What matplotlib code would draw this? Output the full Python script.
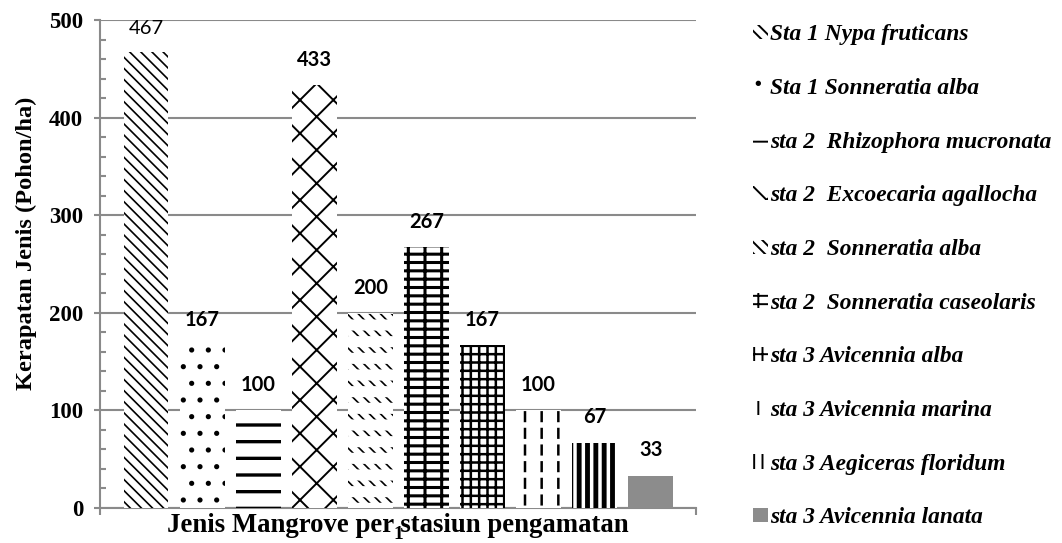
import matplotlib
matplotlib.use("Agg")
import matplotlib.pyplot as plt
from matplotlib.ticker import MultipleLocator, FixedLocator, NullFormatter

plt.rcParams['hatch.linewidth'] = 1.4

species = ["Sta 1 Nypa fruticans", "Sta 1 Sonneratia alba", "sta 2  Rhizophora mucronata",
           "sta 2  Excoecaria agallocha", "sta 2  Sonneratia alba", "sta 2  Sonneratia caseolaris",
           "sta 3 Avicennia alba", "sta 3 Avicennia marina", "sta 3 Aegiceras floridum",
           "sta 3 Avicennia lanata"]
values = [467, 167, 100, 433, 200, 267, 167, 100, 67, 33]
value_labels = ["467", "167", "100", "433", "200", "267", "167", "100", "67", "33"]
category_label = ["1"]

hatches = ['\\' * 3, '.', '-', 'x', '\\' * 3, '--|', '++', '|', '||', '']
faces = ['white'] * 9 + ['#8c8c8c']
hatch_lw = [1.2, 1.3, 2.4, 1.4, 1.2, 2.2, 1.8, 1.8, 3.5, 1.0]
# white horizontal hatch laid over some bars to break lines into dashes
breaks = {4: 8.0, 7: 4.0}

fig = plt.figure(figsize=(10.62, 5.43), dpi=100)
ax = fig.add_axes([0.0942, 0.0645, 0.5612, 0.8986])

gray = '#8a8a8a'
bars = []
for i, (v, h, fc, lbl) in enumerate(zip(values, hatches, faces, species)):
    b = ax.bar(i, v, width=0.80, facecolor=fc, edgecolor='black', linewidth=0,
               hatch=h, label=lbl, zorder=3)
    for p in b.patches:
        if hasattr(p, 'set_hatch_linewidth'):
            p.set_hatch_linewidth(hatch_lw[i])
    bars.append(b)
    if i in breaks:
        ov = ax.bar(i, v, width=0.80, facecolor='none', edgecolor='white', linewidth=0,
                    hatch='-', zorder=3.5)
        for p in ov.patches:
            if hasattr(p, 'set_hatch_linewidth'):
                p.set_hatch_linewidth(breaks[i])

for i, (v, t) in enumerate(zip(values, value_labels)):
    ax.annotate(t, (i, v), xytext=(0, 11), textcoords='offset points', ha='center',
                va='bottom', fontsize=14.5, family='Lato',
                fontweight='normal' if i == 0 else 'bold', zorder=4)

ax.set_xlim(-0.82, 9.81)
ax.set_ylim(0, 500)
ax.yaxis.set_major_locator(MultipleLocator(100))
ax.yaxis.set_minor_locator(MultipleLocator(20))
ax.grid(axis='y', color=gray, linewidth=1.5, zorder=0)
ax.set_axisbelow(True)

for s in ['top', 'right']:
    ax.spines[s].set_visible(False)
for s in ['left', 'bottom']:
    ax.spines[s].set_color(gray)
    ax.spines[s].set_linewidth(1.5)

ax.tick_params(axis='y', which='major', direction='out', length=4, width=1.5, color=gray,
               pad=8, labelsize=16.5)
ax.tick_params(axis='y', which='minor', direction='in', length=4.5, width=1.5, color=gray)
for t in ax.get_yticklabels():
    t.set_family('Liberation Serif')
    t.set_fontweight('bold')

# x axis: category boundary ticks and one centred category label
ax.xaxis.set_major_locator(FixedLocator([4.5]))
ax.set_xticklabels(category_label, family='Liberation Serif', fontweight='bold', fontsize=14)
ax.tick_params(axis='x', which='major', length=0, pad=13)
ax.xaxis.set_minor_locator(FixedLocator([-0.82, 9.81]))
ax.xaxis.set_minor_formatter(NullFormatter())
ax.tick_params(axis='x', which='minor', direction='out', length=5, width=1.5, color=gray)

ax.set_xlabel("Jenis Mangrove per stasiun pengamatan", family='Liberation Serif',
              fontweight='bold', fontsize=19.3)
ax.xaxis.set_label_coords(0.5, -0.011)
ax.set_ylabel("Kerapatan Jenis (Pohon/ha)", family='Liberation Serif',
              fontweight='bold', fontsize=17.6)
ax.yaxis.set_label_coords(-0.106, 0.543)

leg = fig.legend(handles=[b.patches[0] for b in bars], labels=species, loc='upper left',
                 bbox_to_anchor=(0.709, 0.955), frameon=False, borderpad=0,
                 borderaxespad=0, handlelength=0.65, handleheight=0.55, handletextpad=0.1,
                 labelspacing=1.40,
                 prop={'family': 'Liberation Serif', 'weight': 'bold', 'style': 'italic', 'size': 16.8})

fig.savefig("out.png", dpi=100)
